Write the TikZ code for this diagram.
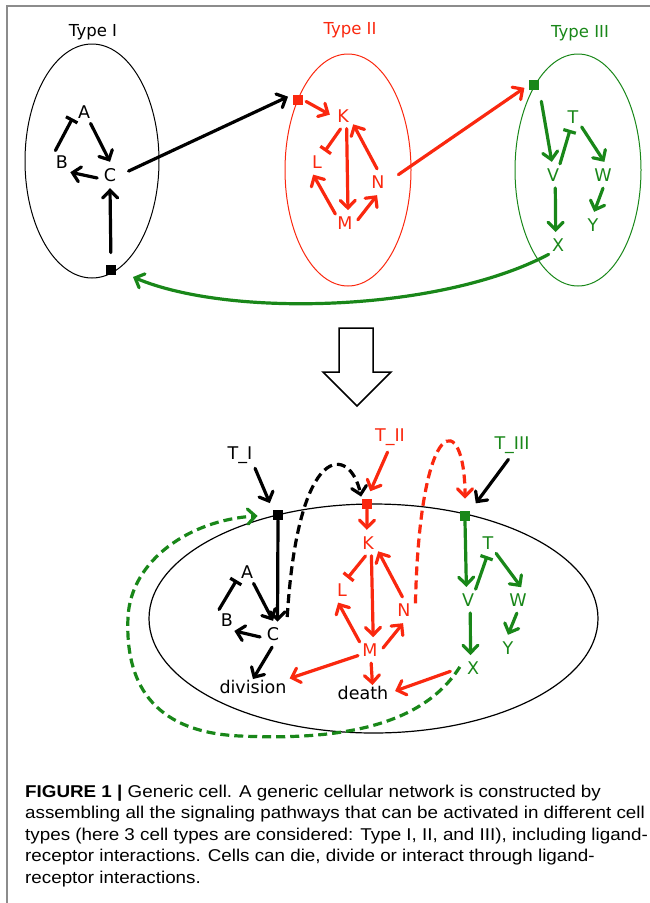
\documentclass[tikz,border=0pt]{standalone}
\usepackage{fontspec}
\setmainfont{DejaVu Sans}
\newfontfamily\capfont[FakeStretch=1.1]{Liberation Sans}
\usetikzlibrary{arrows.meta,shapes.geometric}
\definecolor{cred}{RGB}{250,40,15}
\definecolor{cgreen}{RGB}{25,135,25}
\definecolor{framegray}{RGB}{140,140,140}
\begin{document}
\begin{tikzpicture}[x=1pt,y=-1pt,
  letter/.style={circle,inner sep=0pt,minimum size=26pt,font=\fontsize{17.5}{17.5}\selectfont},
  txt/.style={inner sep=1pt,font=\fontsize{17.5}{17.5}\selectfont},
  typelbl/.style={inner sep=1pt,font=\fontsize{16.5}{16.5}\selectfont},
  sqr/.style={rectangle,fill,inner sep=0pt,minimum size=10.5pt},
  act/.style={line width=3.2pt,line cap=round,-{Straight Barb[length=7.5pt,width=15pt,line cap=round]}},
  inh/.style={line width=3.2pt,line cap=round,-{Bar[width=13pt]}},
  dsh/.style={dash pattern=on 9pt off 5pt,line cap=butt},
  cellring/.style={draw,ellipse,inner sep=0pt},
  capline/.style={anchor=base west,inner sep=0pt,font=\capfont\fontsize{17.1}{17.1}\selectfont}
]
\useasboundingbox (0,0) rectangle (650,903);
% frame
\draw[framegray,line width=1.2pt] (7,903) -- (7,6) -- (650,6);

% ---------- top: three cell types ----------
\node[cellring,line width=1pt,minimum width=134pt,minimum height=234pt] (cellI) at (92,161) {};
\node[cellring,cred,line width=1pt,minimum width=126pt,minimum height=232pt] (cellII) at (348,170) {};
\node[cellring,cgreen,line width=1pt,minimum width=126pt,minimum height=232pt] (cellIII) at (578,170) {};

\node[typelbl] (tI) at (93,32) {Type I};
\node[typelbl,text=cred] (tII) at (350,30) {Type II};
\node[typelbl,text=cgreen] (tIII) at (580,33) {Type III};

% type I
\node[letter] (A1) at (84,112) {A};
\node[letter] (B1) at (62,162) {B};
\node[letter] (C1) at (110,175) {C};
\node[sqr] (sqI) at (111,270) {};
% type II
\node[sqr,cred] (sqII) at (298,100) {};
\node[letter,text=cred] (K1) at (343,116) {K};
\node[letter,text=cred] (L1) at (317,162) {L};
\node[letter,text=cred] (M1) at (345,223) {M};
\node[letter,text=cred] (N1) at (378,182) {N};
% type III
\node[sqr,cgreen] (sqIII) at (534,85) {};
\node[letter,text=cgreen] (T1) at (573,117) {T};
\node[letter,text=cgreen] (V1) at (553,175) {V};
\node[letter,text=cgreen] (W1) at (603,175) {W};
\node[letter,text=cgreen] (Y1) at (593,225) {Y};
\node[letter,text=cgreen] (X1) at (558,245) {X};

\draw[inh] (B1.120) -- (A1.209);
\draw[act] (A1.300) -- (C1.90);
\draw[act] (C1.193) -- (B1.309);
\draw[act,shorten <=12pt] (sqI.north) -- (C1.270);
\draw[act,shorten <=6pt,shorten >=5pt] (C1.6) -- (sqII.north west);

\draw[act,cred,shorten <=3pt] (sqII.east) -- (K1.174);
\draw[inh,cred] (K1.259) -- (L1.54);
\draw[act,cred] (K1.286) -- (M1.77);
\draw[act,cred] (N1.94) -- (K1.321);
\draw[act,cred] (M1.137) -- (L1.253);
\draw[act,cred] (M1.14) -- (N1.266);
\draw[act,cred,shorten <=9pt,shorten >=5pt] (N1.10) -- (sqIII.west);

\draw[act,cgreen,shorten <=11pt] (sqIII.south east) -- (V1.95);
\draw[inh,cgreen] (V1.58) -- (T1.257);
\draw[act,cgreen] (T1.311) -- (W1.84);
\draw[act,cgreen] (W1.270) -- (Y1.85);
\draw[act,cgreen] (V1.280) -- (X1.100);
\draw[act,cgreen,shorten >=18pt] (X1.225) .. controls (440,312) and (230,318) .. (sqI.east);

% ---------- hollow arrow ----------
\draw[line width=1.5pt,fill=white,line join=miter]
  (339,328) -- (373,328) -- (373,372) -- (391,372) -- (357,406) -- (323,372) -- (339,372) -- cycle;

% ---------- bottom: generic cell ----------
\node[cellring,line width=1.2pt,minimum width=449pt,minimum height=229pt] (cell) at (373.5,618.5) {};

\node[txt] (TI) at (240,455) {T\_I};
\node[txt,text=cred] (TII) at (390,437) {T\_II};
\node[txt,text=cgreen] (TIII) at (512,445) {T\_III};

\node[sqr] (sqB1) at (278,515) {};
\node[sqr,cred] (sqB2) at (367,504) {};
\node[sqr,cgreen] (sqB3) at (465,516) {};

\node[letter] (A2) at (247,572) {A};
\node[letter] (B2) at (227,620) {B};
\node[letter] (C2) at (273,634) {C};
\node[txt] (div) at (253,687) {division};

\node[letter,text=cred] (K2) at (368,543) {K};
\node[letter,text=cred] (L2) at (342,590) {L};
\node[letter,text=cred] (M2) at (370,650) {M};
\node[letter,text=cred] (N2) at (404,610) {N};
\node[txt] (death) at (363,693) {death};

\node[letter,text=cgreen] (T2) at (488,543) {T};
\node[letter,text=cgreen] (V2) at (468,600) {V};
\node[letter,text=cgreen] (W2) at (518,600) {W};
\node[letter,text=cgreen] (Y2) at (508,648) {Y};
\node[letter,text=cgreen] (X2) at (473,668) {X};

% type I part
\draw[act,shorten <=4pt,shorten >=7pt] (TI.south east) -- (sqB1.north west);
\draw[act] (sqB1.south) -- (C2.70);
\draw[inh] (B2.127) -- (A2.218);
\draw[act] (A2.300) -- (C2.90);
\draw[act] (C2.193) -- (B2.304);
\draw[act] (C2.266) -- (div.north);
\draw[act,dsh,shorten <=17pt,shorten >=2pt] (C2.east) .. controls (298,440) and (350,445) .. (sqB2.north west);

% type II part
\draw[act,cred,shorten <=6pt,shorten >=8pt] (TII.south) -- (sqB2.north);
\draw[act,cred] (sqB2.south) -- (K2.95);
\draw[inh,cred] (K2.259) -- (L2.65);
\draw[act,cred] (K2.285) -- (M2.76);
\draw[act,cred] (N2.97) -- (K2.321);
\draw[act,cred] (M2.9) -- (N2.266);
\draw[act,cred] (M2.142) -- (L2.253);
\draw[act,cred,shorten >=2pt] (M2.205) -- (div.north east);
\draw[act,cred] (M2.275) -- (death.40);
\draw[act,cred,shorten <=10pt,shorten >=6pt] (X2.west) -- (death.east);
\draw[act,cred,dsh,shorten >=12pt] (N2.30) .. controls (420,410) and (465,410) .. (sqB3.north);

% type III part
\draw[act,shorten <=6pt,shorten >=9pt] (TIII.south) -- (sqB3.north east);
\draw[act,cgreen] (sqB3.south) -- (V2.97);
\draw[inh,cgreen] (V2.55) -- (T2.266);
\draw[act,cgreen] (T2.308) -- (W2.76);
\draw[act,cgreen] (W2.265) -- (Y2.90);
\draw[act,cgreen] (V2.280) -- (X2.101);
\draw[act,cgreen,dsh,shorten >=15pt] (X2.175) .. controls (420,730) and (330,740) .. (240,736)
   .. controls (150,732) and (125,680) .. (128,617)
   .. controls (131,560) and (190,520) .. (sqB1.west);

% ---------- caption ----------
\node[capline] (cap1) at (25,797) {{\bfseries FIGURE 1 |} Generic cell. A generic cellular network is constructed by};
\node[capline] (cap2) at (25,818.5) {assembling all the signaling pathways that can be activated in different cell};
\node[capline] (cap3) at (25,840) {types (here 3 cell types are considered: Type I, II, and III), including ligand-};
\node[capline] (cap4) at (25,861.5) {receptor interactions. Cells can die, divide or interact through ligand-};
\node[capline] (cap5) at (25,883) {receptor interactions.};
\end{tikzpicture}
\end{document}
